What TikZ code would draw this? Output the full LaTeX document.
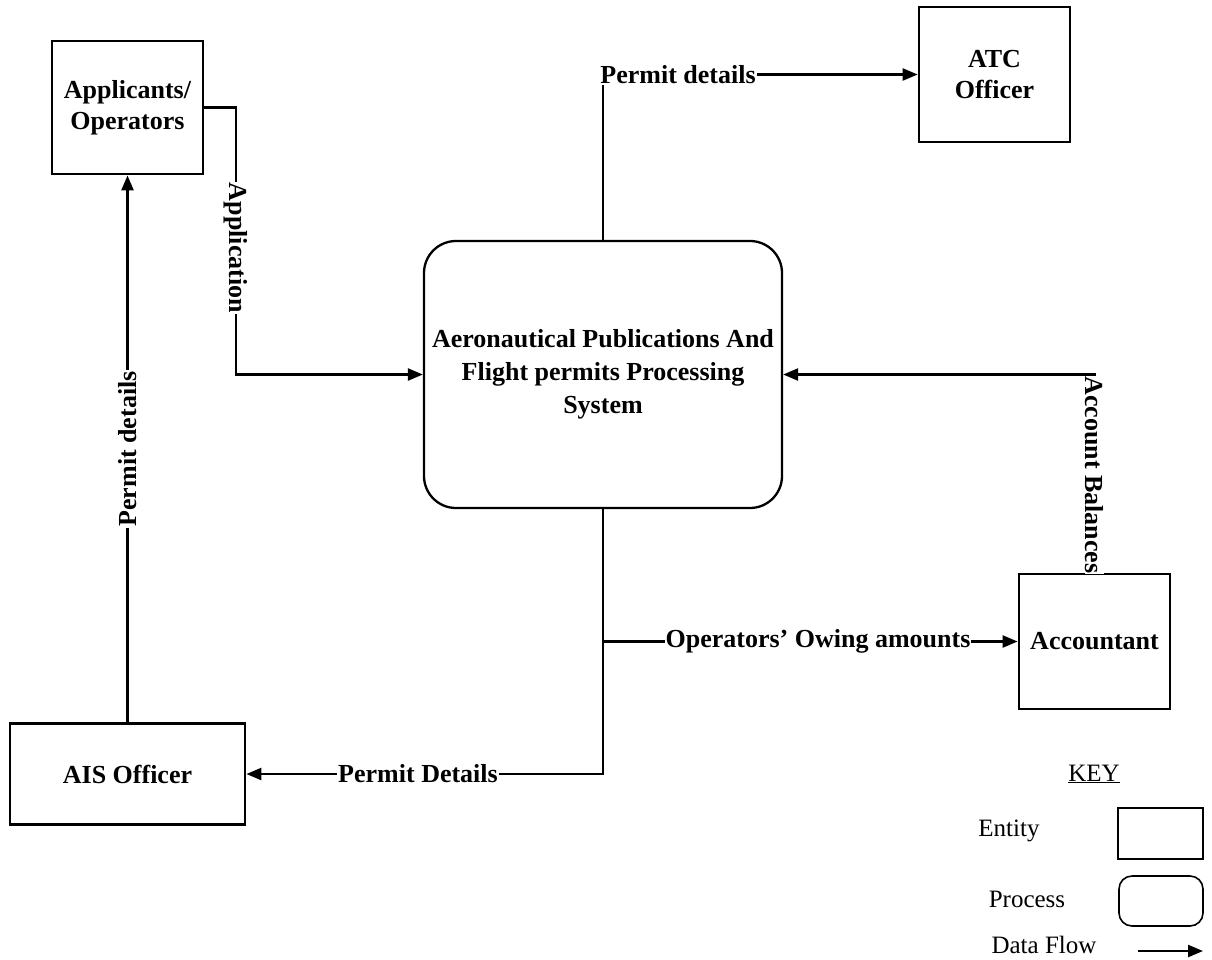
\documentclass[tikz,border=0pt]{standalone}
\usepackage{fontspec}
\setmainfont{Liberation Serif}
\usetikzlibrary{arrows.meta}
\begin{document}
\begin{tikzpicture}[x=1pt,y=-1pt,
  font=\fontsize{25}{31}\selectfont,
  entity/.style={draw, line width=2.8pt, align=center, inner sep=0pt,
    font=\bfseries\fontsize{26}{31}\selectfont},
  proc/.style={draw, line width=2.3pt, rounded corners=32pt, align=center, inner sep=0pt,
    font=\bfseries\fontsize{26}{33}\selectfont},
  flow/.style={line width=2.4pt, -{Triangle[length=15pt,width=12pt]}},
  lbl/.style={fill=white, inner sep=1pt, font=\bfseries\fontsize{26}{30}\selectfont},
  keytext/.style={inner sep=0pt, font=\fontsize{25}{30}\selectfont}
]
\useasboundingbox (0,0) rectangle (1212,959);

% entities and the process
\node[entity, minimum width=151pt, minimum height=133pt] (app) at (127.5,107.5) {Applicants/\\Operators};
\node[entity, minimum width=151pt, minimum height=135pt] (atc) at (994.5,74.5) {ATC\\Officer};
\node[proc, minimum width=358pt, minimum height=267pt] (sys) at (603,374.5)
  {Aeronautical Publications And\\Flight permits Processing\\System};
\node[entity, minimum width=151pt, minimum height=135pt] (acc) at (1094.5,641.5) {Accountant};
\node[entity, minimum width=235pt, minimum height=101pt] (ais) at (127.5,774) {AIS Officer};

% data flows
\coordinate (appbend) at (236,107.5);
\draw[flow] (app.east) -- (appbend) |- (sys.west);
\draw[flow] (sys.north) |- (atc.west);
\draw[flow] (sys.south) |- (ais.east);
\coordinate (branch) at (603,641.5);
\draw[flow] (branch) -- (acc.west);
\draw[flow] (acc.north) |- (sys.east);
\draw[flow] (ais.north) -- (app.south);

% flow labels
\node[lbl, rotate=-90] (lapp) at (236,248) {Application};
\node[lbl] (latc) at (678,74.5) {Permit details};
\node[lbl] (lais) at (418,774) {Permit Details};
\node[lbl] (lacc) at (818,641.5) {Operators’ Owing amounts};
\node[lbl, rotate=-90, inner sep=0.3pt] (lbal) at (1094.5,475) {Account Balances};
\node[lbl, rotate=90] (lper) at (127.5,449) {Permit details};

% key
\node[keytext] (key) at (1094,774) {\underline{KEY}};
\node[keytext] (kent) at (1009,831) {Entity};
\node[draw, line width=2.8pt, minimum width=85pt, minimum height=51pt, inner sep=0pt] (kentsym) at (1160.5,833.5) {};
\node[keytext] (kproc) at (1027,899) {Process};
\node[draw, line width=1.6pt, rounded corners=13pt, minimum width=84pt, minimum height=50pt, inner sep=0pt] (kprocsym) at (1161,901) {};
\node[keytext] (kflow) at (1044,945) {Data Flow};
\coordinate (kf1) at (1138,951);
\coordinate (kf2) at (1203,951);
\draw[flow] (kf1) -- (kf2);
\end{tikzpicture}
\end{document}
